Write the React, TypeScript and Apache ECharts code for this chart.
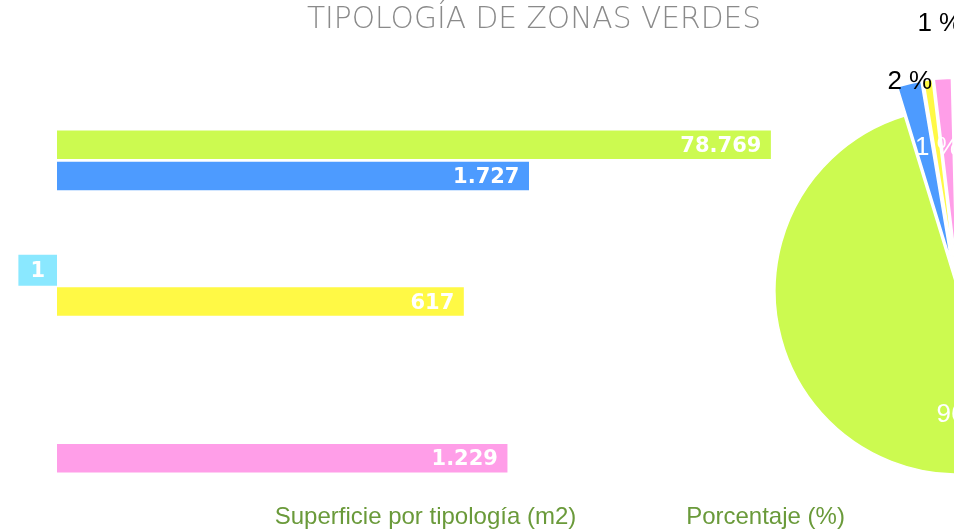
import React, { useEffect, useRef } from 'react';
import * as echarts from 'echarts';

const titulo = 'TIPOLOGÍA DE ZONAS VERDES';
const tituloBarras = 'Superficie por tipología (m2)';
const tituloTarta = 'Porcentaje (%)';

// Tipologías (5 series of the original chart)
const tipologias = ['Tipología 1', 'Tipología 2', 'Tipología 3', 'Tipología 4', 'Tipología 5'];
// Superficie (m2)
const superficie = [78769, 1727, 1, 617, 1229];
// Rows of the bar chart (empty rows are gaps in the original layout)
const filas = ['Tipología 1', 'Tipología 2', '', '', 'Tipología 3', 'Tipología 4', '', '', '', '', 'Tipología 5'];

const paleta = ['#CCFA50', '#4D9BFF', '#8AE8FF', '#FFF945', '#FF9EE8'];

// label nudges for the pie (dx, dy), to mimic the original's placement
const ajustePie = [
  [-7, 29],
  [82, -19],
  [0, 0],
  [-3, -22],
  [25, -49],
];

const fmtMiles = (v: number) => String(v).replace(/\B(?=(\d{3})+(?!\d))/g, '.');

export default function App() {
  const ref = useRef<HTMLDivElement>(null);
  useEffect(() => {
    if (!ref.current) return;
    const chart = echarts.init(ref.current, null, { renderer: 'svg' });

    const barData = filas.map((f) => {
      const i = tipologias.indexOf(f);
      if (i < 0) return { value: null };
      const isTiny = superficie[i] <= 1;
      return {
        value: superficie[i],
        itemStyle: { color: paleta[i] },
        label: isTiny
          ? {
              position: 'left',
              distance: 0,
              backgroundColor: paleta[i],
              padding: [4, 12, 5, 12],
              lineHeight: 22,
            }
          : {},
      };
    });

    const pieLabelCfg = [
      { position: 'inside', color: '#fff' },
      { position: 'outside', color: '#000' },
      { show: false },
      { position: 'inside', color: '#fff' },
      { position: 'outside', color: '#000' },
    ];

    const pieData = tipologias.map((n, i) => ({
      name: n,
      value: superficie[i],
      selected: i !== 0,
      itemStyle: { color: paleta[i] },
      label: pieLabelCfg[i],
    }));

    chart.setOption({
      animation: false,
      grid: { left: 57, right: 168, top: 129, bottom: 57 },
      xAxis: {
        type: 'log',
        min: 1,
        max: 100000,
        show: false,
      },
      yAxis: {
        type: 'category',
        data: filas,
        inverse: true,
        show: false,
      },
      graphic: [
        {
          type: 'text',
          x: 534,
          y: 17,
          style: {
            text: titulo,
            align: 'center',
            verticalAlign: 'middle',
            fontFamily: 'DejaVu Sans',
            fontWeight: 200,
            fontSize: 29.7,
            fill: '#8a8a8a',
          },
        },
        {
          type: 'text',
          x: 425.5,
          y: 515,
          style: {
            text: tituloBarras,
            align: 'center',
            verticalAlign: 'middle',
            fontFamily: 'Liberation Sans',
            fontSize: 24,
            fill: '#6a9a3a',
          },
        },
        {
          type: 'text',
          x: 765.5,
          y: 515,
          style: {
            text: tituloTarta,
            align: 'center',
            verticalAlign: 'middle',
            fontFamily: 'Liberation Sans',
            fontSize: 24,
            fill: '#6a9a3a',
          },
        },
      ],
      series: [
        {
          type: 'bar',
          data: barData,
          barCategoryGap: '9%',
          label: {
            show: true,
            position: 'insideRight',
            distance: 9.5,
            color: '#fff',
            fontFamily: 'DejaVu Sans',
            fontWeight: 'bold',
            fontSize: 21,
            formatter: (p: any) => fmtMiles(p.value),
          },
        },
        {
          type: 'pie',
          center: [958, 291],
          radius: 183,
          startAngle: 91.4,
          clockwise: true,
          selectedMode: 'multiple',
          selectedOffset: 30,
          avoidLabelOverlap: true,
          itemStyle: { borderColor: '#fff', borderWidth: 1.5 },
          label: {
            formatter: (p: any) => Math.round(p.percent) + ' %',
            fontFamily: 'Liberation Sans',
            fontSize: 26,
          },
          labelLine: { show: false, length: 8, length2: 0 },
          labelLayout: (p: any) => {
            const a = ajustePie[p.dataIndex] || [0, 0];
            return { dx: a[0], dy: a[1] };
          },
          data: pieData,
        },
      ],
    });
    return () => chart.dispose();
  }, []);
  return (
    <div
      ref={ref}
      style={{ position: 'fixed', left: 0, top: 0, width: 954, height: 531 }}
    />
  );
}
